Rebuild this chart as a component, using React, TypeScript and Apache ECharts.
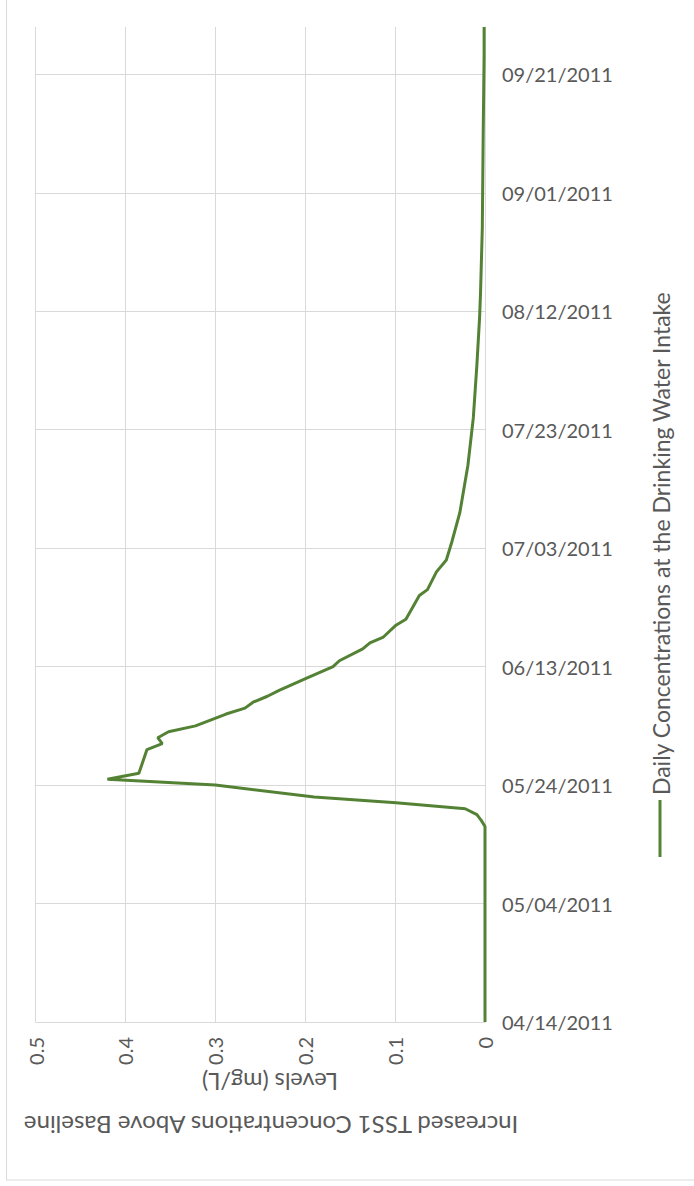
import React, { useEffect, useRef } from "react";
import * as echarts from "echarts";

// Day offsets from 04/14/2011 and concentration values (mg/L)
const days: number[] = [0, 33, 34, 35, 36, 37, 38, 40, 41, 42, 46, 47, 48, 49, 50, 52, 53, 54, 55, 56, 58, 60, 61, 63, 64, 65, 67, 68, 72, 73, 76, 78, 81, 86, 94, 102, 111, 119, 123, 134, 150, 163, 168];
const values: number[] = [0, 0, 0.004, 0.009, 0.022, 0.099, 0.19, 0.3, 0.42, 0.385, 0.376, 0.359, 0.364, 0.352, 0.322, 0.288, 0.267, 0.258, 0.242, 0.229, 0.199, 0.169, 0.162, 0.136, 0.128, 0.113, 0.099, 0.088, 0.073, 0.064, 0.054, 0.043, 0.037, 0.028, 0.019, 0.013, 0.009, 0.006, 0.005, 0.003, 0.002, 0.001, 0.001];

const dateLabels: string[] = ["04/14/2011", "05/04/2011", "05/24/2011", "06/13/2011", "07/03/2011", "07/23/2011", "08/12/2011", "09/01/2011", "09/21/2011"];
const valueTicks: string[] = ["0", "0.1", "0.2", "0.3", "0.4", "0.5"];

const seriesName = "Daily Concentrations at the Drinking Water Intake";
const titleLine1 = "Increased TSS1 Concentrations Above Baseline";
const titleLine2 = "Levels (mg/L)";

const FONT = "Lato";
const TEXT = "#595959";
const GRID = "#d9d9d9";
const GREEN = "#548235";

export default function App() {
  const ref = useRef<HTMLDivElement>(null);
  useEffect(() => {
    if (!ref.current) return;
    const chart = echarts.init(ref.current, undefined, { renderer: "svg" });
    chart.setOption({
      animation: false,
      backgroundColor: "#ffffff",
      grid: { left: 35.5, right: 209, top: 27, bottom: 164, containLabel: false },
      xAxis: {
        type: "value",
        inverse: true,
        min: 0,
        max: 0.5,
        interval: 0.1,
        position: "bottom",
        axisLine: { show: false },
        axisTick: { show: false },
        splitLine: { show: true, lineStyle: { color: GRID, width: 1 } },
        axisLabel: {
          rotate: 90,
          margin: 15,
          fontSize: 20,
          fontFamily: FONT,
          color: TEXT,
          formatter: (v: number) => valueTicks[Math.round(v * 10)] ?? "",
        },
      },
      yAxis: {
        type: "value",
        position: "right",
        min: 0,
        max: 168,
        interval: 20,
        axisLine: { show: true, lineStyle: { color: GRID, width: 1 } },
        axisTick: { show: false },
        splitLine: { show: true, showMaxLine: false, lineStyle: { color: GRID, width: 1 } },
        axisLabel: {
          margin: 17,
          fontSize: 20,
          fontFamily: FONT,
          color: TEXT,
          showMaxLabel: false,
          formatter: (d: number) => (d % 20 === 0 ? dateLabels[d / 20] ?? "" : ""),
        },
      },
      series: [
        {
          name: seriesName,
          type: "line",
          data: days.map((d, i) => [values[i], d]),
          showSymbol: false,
          symbol: "none",
          lineStyle: { color: GREEN, width: 3 },
          itemStyle: { color: GREEN },
        },
      ],
      graphic: [
        {
          type: "rect",
          z: -1,
          shape: { x: 6.5, y: -5, width: 700, height: 1185 },
          style: { fill: "none", stroke: GRID, lineWidth: 1 },
        },
        {
          type: "line",
          shape: { x1: 660, y1: 800, x2: 660, y2: 857 },
          style: { stroke: GREEN, lineWidth: 3 },
        },
        {
          type: "text",
          x: 661,
          y: 795,
          rotation: Math.PI / 2,
          style: {
            text: seriesName,
            fontSize: 23,
            fontFamily: FONT,
            fill: TEXT,
            align: "left",
            verticalAlign: "middle",
          },
        },
        {
          type: "text",
          x: 270,
          y: 1082,
          rotation: Math.PI,
          style: {
            text: titleLine2,
            fontSize: 23.5,
            fontFamily: FONT,
            fill: TEXT,
            align: "center",
            verticalAlign: "middle",
          },
        },
        {
          type: "text",
          x: 271,
          y: 1125,
          rotation: Math.PI,
          style: {
            text: titleLine1,
            fontSize: 24,
            fontFamily: FONT,
            fill: TEXT,
            align: "center",
            verticalAlign: "middle",
          },
        },
      ],
    });
    return () => chart.dispose();
  }, []);
  return (
    <div
      ref={ref}
      style={{ position: "absolute", left: 0, top: 0, width: 694, height: 1186 }}
    />
  );
}
